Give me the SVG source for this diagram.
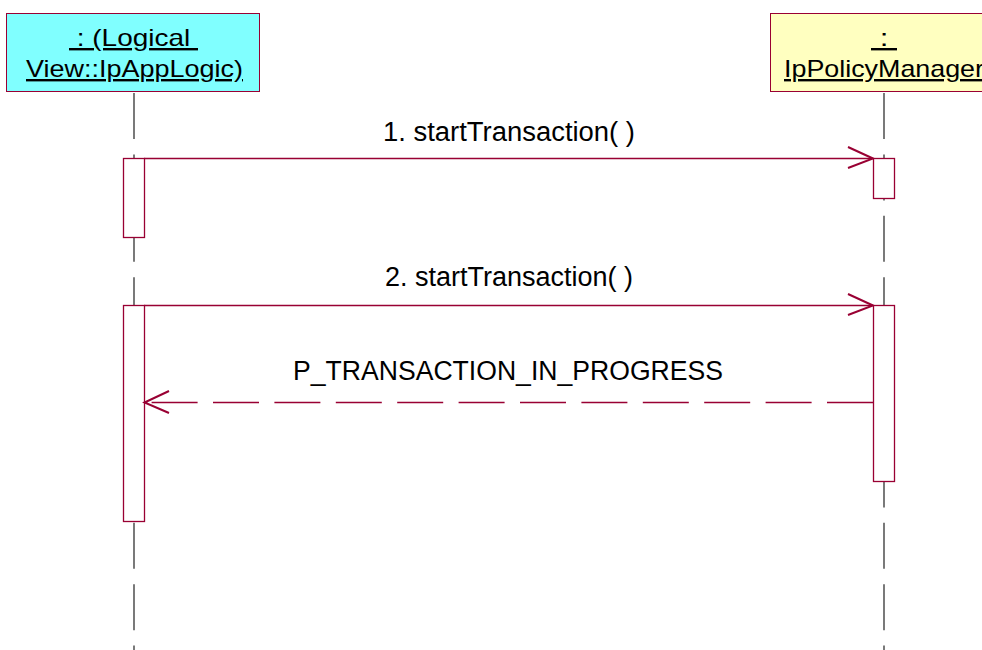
<svg xmlns="http://www.w3.org/2000/svg" width="982" height="650" viewBox="0 0 982 650">
<defs>
<style>
.obj{stroke:#990033;stroke-width:1}
.head{font-family:"Liberation Sans",Arial,sans-serif;font-size:24px;fill:#000;text-decoration:underline}
.lbl{font-family:"Liberation Sans",Arial,sans-serif;font-size:27px;fill:#000}
.life{stroke:#333;stroke-width:1.3;stroke-dasharray:46 15.4;fill:none}
.act{fill:#fff;stroke:#990033;stroke-width:1.3}
.msg{stroke:#990033;stroke-width:1.3;fill:none}
.ret{stroke:#990033;stroke-width:1.3;fill:none;stroke-dasharray:46 15.4}
.head2{stroke:#990033;stroke-width:2;fill:none}
</style>
</defs>
<rect width="982" height="650" fill="#fff"/>
<g id="lifelines">
<line class="life" x1="134" y1="93" x2="134" y2="650"/>
<line class="life" x1="884" y1="93" x2="884" y2="650"/>
</g>
<g id="node-ipapplogic">
<rect class="obj" x="6.5" y="13.5" width="253" height="78" fill="#80FFFF"/>
<text class="head" x="133.5" y="46" text-anchor="middle" xml:space="preserve" textLength="129" lengthAdjust="spacingAndGlyphs"> : (Logical </text>
<text class="head" x="134.5" y="77" text-anchor="middle" textLength="217" lengthAdjust="spacingAndGlyphs">View::IpAppLogic)</text>
</g>
<g id="node-ippolicymanager">
<rect class="obj" x="770.5" y="13.5" width="228" height="78" fill="#FFFFC0"/>
<text class="head" x="884" y="46" text-anchor="middle" xml:space="preserve" textLength="26" lengthAdjust="spacingAndGlyphs"> : </text>
<text class="head" x="884" y="77" text-anchor="middle" textLength="200" lengthAdjust="spacingAndGlyphs">IpPolicyManager</text>
</g>
<g id="activations">
<rect class="act" x="123.5" y="158.5" width="21" height="79"/>
<rect class="act" x="873.5" y="158.5" width="21" height="40"/>
<rect class="act" x="123.5" y="305.5" width="21" height="216"/>
<rect class="act" x="873.5" y="305.5" width="21" height="176"/>
</g>
<g id="connectors">
<line class="msg" x1="144" y1="158.5" x2="873" y2="158.5"/>
<polyline class="head2" points="848,147 873,158.5 848,168"/>
<text class="lbl" x="509" y="141" text-anchor="middle" textLength="252" lengthAdjust="spacingAndGlyphs">1. startTransaction( )</text>
<line class="msg" x1="144" y1="305.5" x2="873" y2="305.5"/>
<polyline class="head2" points="848,294 873,305.5 848,315"/>
<text class="lbl" x="509" y="286" text-anchor="middle" textLength="248" lengthAdjust="spacingAndGlyphs">2. startTransaction( )</text>
<line class="ret" x1="873" y1="402.5" x2="144" y2="402.5"/>
<polyline class="head2" points="169,391 144.5,402.5 169,413"/>
<text class="lbl" x="508" y="380" text-anchor="middle" textLength="430" lengthAdjust="spacingAndGlyphs">P_TRANSACTION_IN_PROGRESS</text>
</g>
</svg>
